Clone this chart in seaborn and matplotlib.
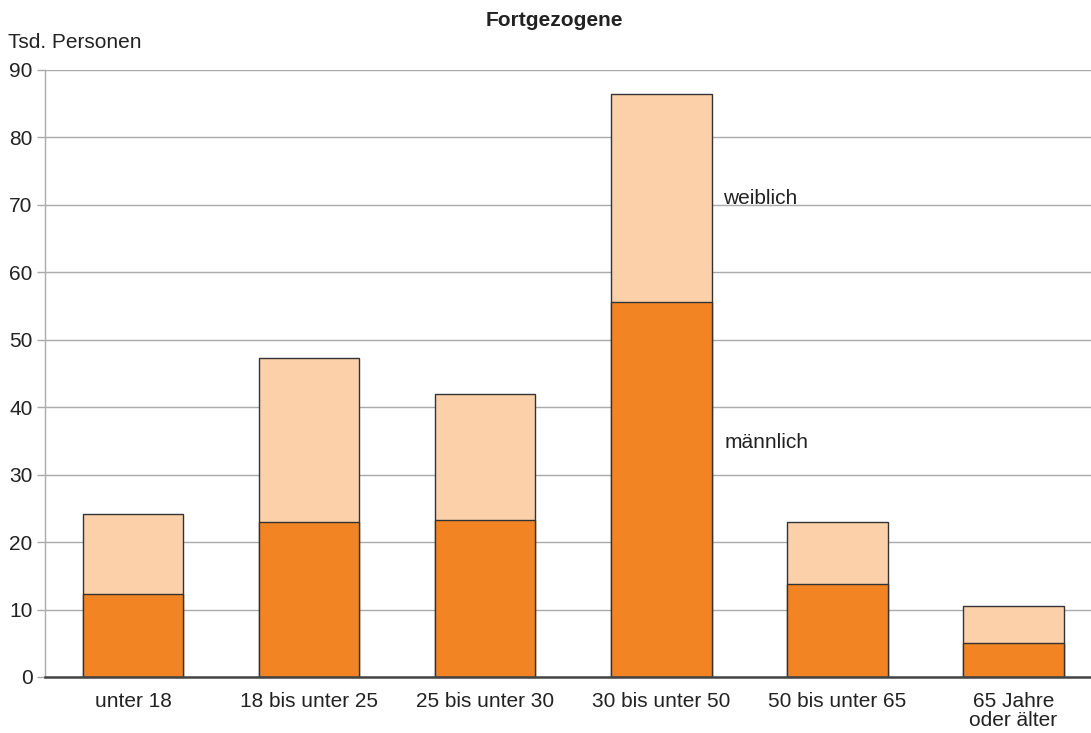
import pandas as pd
import seaborn as sns
import matplotlib.pyplot as plt

# Werte in Tsd. Personen
categories = ["unter 18", "18 bis unter 25", "25 bis unter 30",
              "30 bis unter 50", "50 bis unter 65", "65 Jahre\noder älter"]
maennlich = [12.3, 23.0, 23.3, 55.6, 13.8, 5.0]
weiblich = [11.9, 24.3, 18.7, 30.8, 9.2, 5.5]

df = pd.DataFrame({"Alter": categories, "maennlich": maennlich, "weiblich": weiblich})
df["gesamt"] = df["maennlich"] + df["weiblich"]

sns.set_theme(style="white")
plt.rcParams["font.family"] = ["Liberation Sans", "DejaVu Sans"]
fs = 15

fig = plt.figure(figsize=(10.91, 7.33), dpi=100)
ax = fig.add_axes([45 / 1091, 56 / 733, 1 - 45 / 1091, 607 / 733])

# stacked: total bar in light colour, male bar on top of it
sns.barplot(data=df, x="Alter", y="gesamt", color="#FCD1A9", width=0.57,
            edgecolor="#333333", linewidth=1, saturation=1, ax=ax, zorder=3)
sns.barplot(data=df, x="Alter", y="maennlich", color="#F28423", width=0.57,
            edgecolor="#333333", linewidth=1, saturation=1, ax=ax, zorder=3)

ax.set_ylim(0, 90)
ax.set_xlim(-0.5, 5.44)
ax.set_yticks(range(0, 91, 10))
ax.yaxis.grid(True, color="#AAAAAA", linewidth=1, zorder=0)
ax.set_axisbelow(True)
ax.set_xlabel("")
ax.set_ylabel("")

for s in ["top", "right"]:
    ax.spines[s].set_visible(False)
ax.spines["left"].set_color("#AAAAAA")
ax.spines["left"].set_linewidth(1)
ax.spines["bottom"].set_color("#444444")
ax.spines["bottom"].set_linewidth(1.8)
ax.spines["bottom"].set_zorder(4)

ax.tick_params(axis="y", which="major", left=True, length=6, width=1,
               color="#AAAAAA", labelsize=fs, labelcolor="#222222", pad=3)
ax.tick_params(axis="x", bottom=False, labelsize=fs, labelcolor="#222222", pad=5)
for lab in ax.get_xticklabels():
    lab.set_linespacing(1.0)

ax.text(3.35, 70.9, "weiblich", fontsize=fs, color="#222222", va="center", ha="left")
ax.text(3.36, 34.7, "männlich", fontsize=fs, color="#222222", va="center", ha="left")

fig.text(554 / 1091, 1 - 21 / 733, "Fortgezogene", fontsize=fs, fontweight="bold",
         color="#222222", ha="center", va="center")
fig.text(8 / 1091, 1 - 43 / 733, "Tsd. Personen", fontsize=fs,
         color="#222222", ha="left", va="center")

fig.savefig("out.png", dpi=100)
